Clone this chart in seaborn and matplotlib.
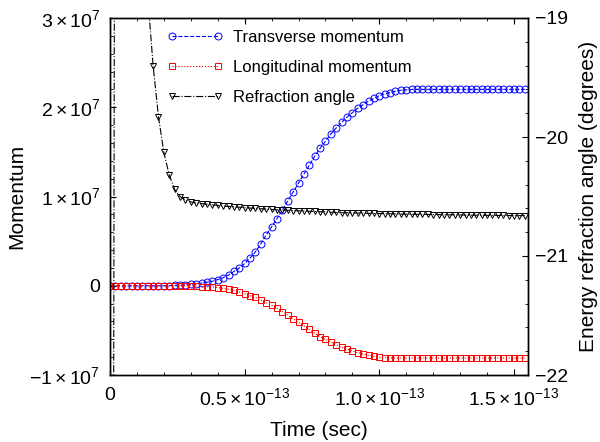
import numpy as np
import matplotlib
matplotlib.use("Agg")
import matplotlib.pyplot as plt
from matplotlib.ticker import MultipleLocator
import seaborn as sns

# Sample times in units of 1e-13 s
time_e13 = [
    0.00, 0.02, 0.04, 0.06, 0.08, 0.10, 0.12, 0.14, 0.16, 0.18,
    0.20, 0.22, 0.24, 0.26, 0.28, 0.30, 0.32, 0.34, 0.36, 0.38,
    0.40, 0.42, 0.44, 0.46, 0.48, 0.50, 0.52, 0.54, 0.56, 0.58,
    0.60, 0.62, 0.64, 0.66, 0.68, 0.70, 0.72, 0.74, 0.76, 0.78,
    0.80, 0.82, 0.84, 0.86, 0.88, 0.90, 0.92, 0.94, 0.96, 0.98,
    1.00, 1.02, 1.04, 1.06, 1.08, 1.10, 1.12, 1.14, 1.16, 1.18,
    1.20, 1.22, 1.24, 1.26, 1.28, 1.30, 1.32, 1.34, 1.36, 1.38,
    1.40, 1.42, 1.44, 1.46, 1.48, 1.50, 1.52, 1.54,
]

# Transverse momentum, units of 1e7
transverse_e7 = [
    0, 0, 0, 0, 0, 0, 0, 0, 0, 0,
    0, 0.002, 0.004, 0.006, 0.01, 0.015, 0.02, 0.03, 0.04, 0.05,
    0.07, 0.09, 0.12, 0.16, 0.20, 0.25, 0.31, 0.38, 0.47, 0.57,
    0.66, 0.75, 0.85, 0.95, 1.05, 1.15, 1.25, 1.35, 1.45, 1.54,
    1.62, 1.70, 1.77, 1.83, 1.89, 1.94, 1.99, 2.03, 2.07, 2.10,
    2.13, 2.15, 2.165, 2.18, 2.19, 2.195, 2.2, 2.2, 2.2, 2.2,
    2.2, 2.2, 2.2, 2.2, 2.2, 2.2, 2.2, 2.2, 2.2, 2.2,
    2.2, 2.2, 2.2, 2.2, 2.2, 2.2, 2.2, 2.2,
]

# Longitudinal momentum, units of 1e7
longitudinal_e7 = [
    0, 0, 0, 0, 0, 0, 0, 0, 0, 0,
    0, 0, 0, 0, 0, 0, -0.005, -0.01, -0.01, -0.015,
    -0.02, -0.03, -0.04, -0.05, -0.07, -0.09, -0.11, -0.13, -0.16, -0.19,
    -0.22, -0.25, -0.29, -0.33, -0.37, -0.41, -0.45, -0.49, -0.53, -0.57,
    -0.60, -0.63, -0.66, -0.69, -0.71, -0.73, -0.75, -0.765, -0.78, -0.79,
    -0.80, -0.805, -0.81, -0.81, -0.81, -0.81, -0.81, -0.81, -0.81, -0.81,
    -0.81, -0.81, -0.81, -0.81, -0.81, -0.81, -0.81, -0.81, -0.81, -0.81,
    -0.81, -0.81, -0.81, -0.81, -0.81, -0.81, -0.81, -0.81,
]

# Energy refraction angle, degrees
refraction_deg = [
    -40.0, -13.8, -16.0, -17.0, -17.6, -18.0, -18.4, -18.81, -19.40, -19.83,
    -20.13, -20.32, -20.44, -20.50, -20.53, -20.545, -20.555, -20.56, -20.565, -20.57,
    -20.575, -20.58, -20.583, -20.587, -20.59, -20.594, -20.597, -20.60, -20.603, -20.606,
    -20.609, -20.612, -20.614, -20.616, -20.618, -20.620, -20.622, -20.624, -20.626, -20.628,
    -20.630, -20.632, -20.634, -20.635, -20.637, -20.638, -20.639, -20.640, -20.641, -20.642,
    -20.643, -20.644, -20.645, -20.646, -20.647, -20.648, -20.649, -20.650, -20.650, -20.651,
    -20.652, -20.652, -20.653, -20.654, -20.654, -20.655, -20.656, -20.656, -20.657, -20.657,
    -20.658, -20.658, -20.659, -20.659, -20.660, -20.660, -20.661, -20.661,
]

series_labels = ["Transverse momentum", "Longitudinal momentum", "Refraction angle"]
series_colors = ["#0000ff", "#ff0000", "#000000"]

x_ticks_e13 = [0, 0.5, 1.0, 1.5]
x_tick_labels = ["0", r"$0.5\times10^{-13}$", r"$1.0\times10^{-13}$", r"$1.5\times10^{-13}$"]
y_ticks_e7 = [-1, 0, 1, 2, 3]
y_tick_labels = [r"$-1\times10^{7}$", "0", r"$1\times10^{7}$", r"$2\times10^{7}$", r"$3\times10^{7}$"]
angle_ticks = [-22, -21, -20, -19]
angle_tick_labels = ["\u221222", "\u221221", "\u221220", "\u221219"]

sns.set_style("ticks")
plt.rcParams["font.family"] = ["Liberation Sans", "DejaVu Sans"]
plt.rcParams["mathtext.fontset"] = "custom"
plt.rcParams["mathtext.rm"] = "Liberation Sans"
plt.rcParams["mathtext.it"] = "Liberation Sans:italic"
plt.rcParams["mathtext.bf"] = "Liberation Sans:bold"
for key in ("text.color", "axes.labelcolor", "xtick.color", "ytick.color", "axes.edgecolor"):
    plt.rcParams[key] = "black"

t = np.array(time_e13) * 1e-13
trans = np.array(transverse_e7) * 1e7
longi = np.array(longitudinal_e7) * 1e7
angle = np.array(refraction_deg)

fig = plt.figure(figsize=(6.0, 4.42), dpi=100)
ax = fig.add_axes([110 / 600, 1 - 375 / 442, 418 / 600, 357 / 442])
ax2 = ax.twinx()

common = dict(markersize=5, markerfacecolor="none", mew=0.7, lw=0.8)
sns.lineplot(x=t, y=trans, ax=ax, color=series_colors[0], marker="o",
             mec=series_colors[0], linestyle="--", label=series_labels[0], **common)
sns.lineplot(x=t, y=longi, ax=ax, color=series_colors[1], marker="s",
             mec=series_colors[1], linestyle=":", label=series_labels[1], **common)
sns.lineplot(x=t, y=angle, ax=ax2, color=series_colors[2], marker="v",
             mec=series_colors[2], linestyle="-.", label=series_labels[2], **common)

if ax.get_legend() is not None:
    ax.get_legend().remove()

ax.set_xlim(0, 1.552e-13)
ax.set_ylim(-1e7, 3e7)
ax2.set_ylim(-22, -19)

ax.set_xticks(np.array(x_ticks_e13) * 1e-13)
ax.set_xticklabels(x_tick_labels)
ax.xaxis.set_minor_locator(MultipleLocator(0.1e-13))
ax.set_yticks(np.array(y_ticks_e7) * 1e7)
ax.set_yticklabels(y_tick_labels)
ax.yaxis.set_minor_locator(MultipleLocator(0.2e7))
ax2.set_yticks(angle_ticks)
ax2.set_yticklabels(angle_tick_labels)
ax2.yaxis.set_minor_locator(MultipleLocator(0.2))

ax.tick_params(axis="x", which="both", direction="in", top=True, bottom=True,
               labelsize=14, pad=9)
ax.tick_params(axis="y", which="both", direction="in", left=True, right=False,
               labelsize=14, pad=7)
ax2.tick_params(axis="y", which="both", direction="in", right=True, left=False,
                labelsize=14, pad=5)
for a in (ax, ax2):
    a.tick_params(which="major", length=4, width=0.8)
    a.tick_params(which="minor", length=2.5, width=0.6)
    for s in a.spines.values():
        s.set_linewidth(1.0)
        s.set_color("black")
        s.set_visible(True)

ax.set_xlabel("Time (sec)", fontsize=15, labelpad=8)
ax.set_ylabel("Momentum", fontsize=15, labelpad=2)
ax2.set_ylabel("Energy refraction angle (degrees)", fontsize=15, labelpad=8)

handles = ax.get_lines()[:2] + ax2.get_lines()[:1]
ax2.legend(handles, series_labels, loc="upper left",
           bbox_to_anchor=(167 / 600, 1 - 29.5 / 442),
           bbox_transform=fig.transFigure, frameon=False, fontsize=12,
           numpoints=2, handlelength=3.36, handletextpad=0.6,
           labelspacing=0.92, borderpad=0, borderaxespad=0)

fig.savefig("out.png", dpi=100)
